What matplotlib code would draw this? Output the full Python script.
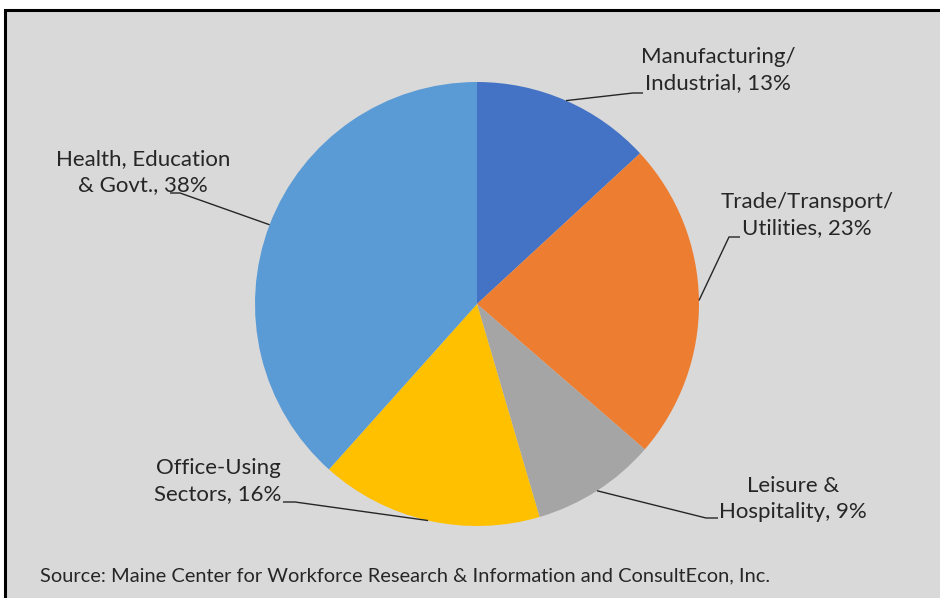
import matplotlib

matplotlib.use("Agg")
import matplotlib.pyplot as plt
import numpy as np
from matplotlib.patches import Rectangle

W, H = 940, 598

sectors = [
    "Manufacturing/\nIndustrial",
    "Trade/Transport/\nUtilities",
    "Leisure &\nHospitality",
    "Office-Using\nSectors",
    "Health, Education\n& Govt.",
]
shares = [13, 23, 9, 16, 38]
colors = ["#4472C4", "#ED7D31", "#A5A5A5", "#FFC000", "#5B9BD5"]
source = "Source: Maine Center for Workforce Research & Information and ConsultEcon, Inc."

# label centre, elbow of the leader line, and where the line meets the text (pixels)
label_xy = [(718, 70), (807, 215), (793, 499), (218, 481), (143, 172)]
elbow_xy = [(633, 93), (729, 237), (706, 518), (295, 502), (180, 193)]
end_xy = [(643, 93), (740, 237), (718, 518), (283, 502), (170, 193)]

CX, CY, R = 477, 304, 222

fig = plt.figure(figsize=(W / 100, H / 100), dpi=100, facecolor="white")
fig.patches.append(
    Rectangle((5 / W, -0.1), 1.1, (H - 10) / H + 0.1, transform=fig.transFigure,
              facecolor="#D9D9D9", edgecolor="black", lw=2.2, zorder=-5)
)

ax = fig.add_axes([(CX - R) / W, (H - CY - R) / H, 2 * R / W, 2 * R / H])
ax.set_zorder(2)
ax.patch.set_visible(False)
wedges, _ = ax.pie(shares, colors=colors, startangle=90, counterclock=False,
                   radius=1, wedgeprops=dict(linewidth=0))
ax.set_xlim(-1, 1)
ax.set_ylim(-1, 1)
ax.axis("off")


def to_data(p):
    return ((p[0] - CX) / R, (CY - p[1]) / R)


for w, name, share, lab, elb, end in zip(wedges, sectors, shares, label_xy, elbow_xy, end_xy):
    mid = np.deg2rad((w.theta1 + w.theta2) / 2)
    start = (np.cos(mid), np.sin(mid))
    e = to_data(elb)
    t = to_data(end)
    ax.plot([start[0], e[0], t[0]], [start[1], e[1], t[1]], color="#262626", lw=1.0,
            clip_on=False, solid_capstyle="butt")
    tx, ty = to_data(lab)
    ax.text(tx, ty, f"{name}, {share}%", ha="center", va="center", fontsize=16,
            family="Lato", color="#262626", linespacing=1.38, clip_on=False)

fig.text(40 / W, 1 - 576 / H, source, ha="left", va="center", fontsize=14.4,
         family="Lato", color="#262626")

fig.savefig("out.png", dpi=100, facecolor="white")
